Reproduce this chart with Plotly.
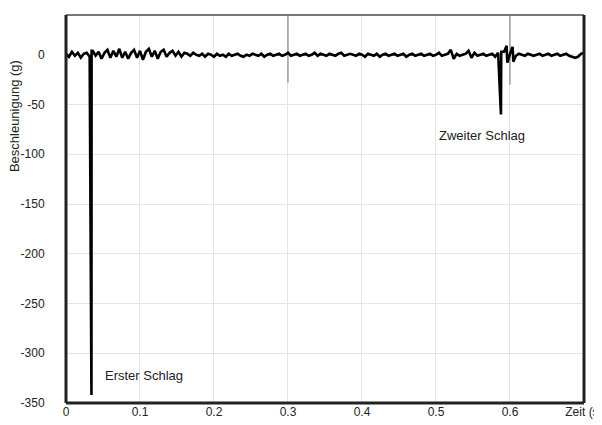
import numpy as np
import plotly.graph_objects as go

# base sampled signal, t = 0 .. 0.7 step 0.004
base_t = [round(i * 0.004, 3) for i in range(176)]
base_a = [1, -2, 3, -1, 2, -3, 1, 2,
          -2, 4, -1, 3, -4, 2, 5, -3,
          4, -2, 6, -3, 3, -4, 2, 5,
          -3, 4, -5, 3, 6, -2, 4, -4,
          3, 5, -2, 2, 4, -1, 3, -2,
          2, 1, -1, 2, 0, -1, 1, -2,
          1, 0, -2, 1, -1, 0, -2, 1,
          -1, 0, 1, -1, -2, 0, -1, 1,
          0, -1, 1, -2, 0, 1, -1, 0,
          1, -1, 0, 2, -1, 0, 1, -1,
          0, 1, -1, 0, 2, -1, 1, 0,
          -1, 1, 0, -1, 1, 2, -1, 0,
          1, 0, -1, 1, 0, -2, 1, 0,
          -1, 1, -2, 0, 1, -1, 0, 1,
          -1, 0, 1, -2, 0, 1, -1, 0,
          1, -1, 0, 1, -1, 0, 2, -1,
          0, 1, 5, -4, 1, -1, 0, 1,
          4, -3, 2, -1, 0, 1, -1, 0,
          1, -2, 2, -3, 3, -2, 1, 2,
          -1, 1, 0, -1, 1, 0, -1, 0,
          1, -1, 0, 1, -1, 0, 1, -1,
          0, 1, -1, -2, -3, -2, 1, 2]

# impact spikes
spike_t = [0.0344, 0.0346, 0.5878, 0.5882, 0.5955, 0.5965, 0.6035, 0.6045]
spike_a = [-342, 4, -60, 3, 9, -8, 8, -7]

# thin artefact lines
art_x = [0.3, 0.3, None, 0.6, 0.6]
art_y = [40, -28, None, 40, -30]

t = np.array(base_t + spike_t)
a = np.array(base_a + spike_a)
order = np.argsort(t, kind="stable")
t, a = t[order], a[order]

x_ticks = [0, 0.1, 0.2, 0.3, 0.4, 0.5, 0.6, 0.7]
x_ticktext = ["0", "0.1", "0.2", "0.3", "0.4", "0.5", "0.6", "Zeit (s)"]
y_ticks = [0, -50, -100, -150, -200, -250, -300, -350]
y_ticktext = ["0", "-50", "-100", "-150", "-200", "-250", "-300", "-350"]

fig = go.Figure()
fig.add_trace(go.Scatter(x=art_x, y=art_y, mode="lines",
                         line=dict(color="#888888", width=1.2), showlegend=False))
fig.add_trace(go.Scatter(x=t, y=a, mode="lines",
                         line=dict(color="black", width=2.6), showlegend=False))

font = dict(family="Liberation Sans, Arial", size=12, color="#222")
afont = dict(family="Liberation Sans, Arial", size=13, color="#222")

fig.update_layout(
    width=594, height=417,
    margin=dict(l=58, r=18, t=7, b=22),
    paper_bgcolor="white", plot_bgcolor="white",
    font=font,
    xaxis=dict(range=[0, 0.70005], tickvals=x_ticks, ticktext=x_ticktext,
               automargin=False, ticklabeloverflow="allow",
               showgrid=True, gridcolor="#e4e4e4", gridwidth=1,
               zeroline=False, showline=False, ticks="",
               tickfont=font),
    yaxis=dict(range=[-350.05, 40], tickvals=y_ticks, ticktext=y_ticktext,
               automargin=False, ticklabeloverflow="allow",
               showgrid=True, gridcolor="#e4e4e4", gridwidth=1,
               zeroline=False, showline=False, ticks="outside", ticklen=18,
               tickcolor="rgba(0,0,0,0)", tickfont=font),
    shapes=[
        dict(type="line", xref="paper", yref="paper", x0=0, x1=1, y0=1, y1=1,
             line=dict(color="#777", width=2)),
        dict(type="line", xref="paper", yref="paper", x0=0, x1=0, y0=0, y1=1,
             line=dict(color="#222", width=3)),
        dict(type="line", xref="paper", yref="paper", x0=1, x1=1, y0=0, y1=1,
             line=dict(color="#222", width=3)),
        dict(type="line", xref="paper", yref="paper", x0=0, x1=1, y0=0, y1=0,
             line=dict(color="#222", width=3)),
    ],
    annotations=[
        dict(text="Beschleunigung (g)", textangle=-90, xref="paper", yref="paper",
             x=-0.098, y=0.74, xanchor="center", yanchor="middle",
             showarrow=False, font=afont),
        dict(text="Erster Schlag", xref="x", yref="y", x=0.050, y=-322,
             xanchor="left", showarrow=False, font=afont),
        dict(text="Zweiter Schlag", xref="x", yref="y", x=0.501, y=-81,
             xanchor="left", showarrow=False, font=afont),
    ],
)

fig.write_html("out.html")
